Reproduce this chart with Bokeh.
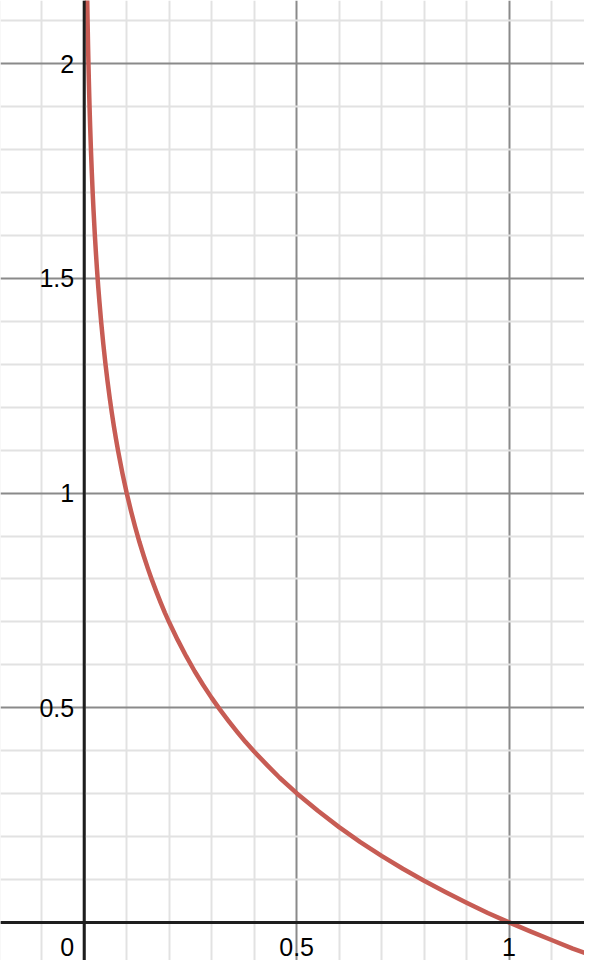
from bokeh.plotting import figure
from bokeh.models import Range1d, FixedTicker, Span
from bokeh.core.properties import value
from bokeh.embed import file_html
from bokeh.resources import INLINE

# curve points
curve_x = [0.0070, 0.0080, 0.0090, 0.010, 0.011, 0.012, 0.013, 0.014, 0.016, 0.018,
           0.020, 0.022, 0.025, 0.028, 0.030, 0.033, 0.036, 0.040, 0.045, 0.050,
           0.055, 0.060, 0.065, 0.070, 0.075, 0.080, 0.090, 0.100, 0.110, 0.120,
           0.130, 0.140, 0.150, 0.160, 0.170, 0.180, 0.190, 0.200, 0.220, 0.240,
           0.260, 0.280, 0.300, 0.320, 0.340, 0.360, 0.380, 0.400, 0.430, 0.460,
           0.500, 0.550, 0.600, 0.650, 0.700, 0.750, 0.800, 0.850, 0.900, 0.950,
           1.000, 1.050, 1.100, 1.150, 1.200]
curve_y = [2.155, 2.097, 2.046, 2.000, 1.959, 1.921, 1.886, 1.854, 1.796, 1.745,
           1.699, 1.658, 1.602, 1.553, 1.523, 1.481, 1.444, 1.398, 1.347, 1.301,
           1.260, 1.222, 1.187, 1.155, 1.125, 1.097, 1.046, 1.000, 0.959, 0.921,
           0.886, 0.854, 0.824, 0.796, 0.770, 0.745, 0.721, 0.699, 0.658, 0.620,
           0.585, 0.553, 0.523, 0.495, 0.469, 0.444, 0.420, 0.398, 0.367, 0.337,
           0.301, 0.260, 0.222, 0.187, 0.155, 0.125, 0.097, 0.071, 0.046, 0.022,
           0.000, -0.021, -0.041, -0.061, -0.079]

# tick labels
x_tick_vals = [0.5, 1]
x_tick_text = ["0.5", "1"]
y_tick_vals = [0.5, 1, 1.5, 2]
y_tick_text = ["0.5", "1", "1.5", "2"]
origin_text = ["0"]

major_x = [-0.5, 0, 0.5, 1, 1.5]
minor_x = [-0.4, -0.3, -0.2, -0.1, 0.1, 0.2, 0.3, 0.4, 0.6, 0.7, 0.8, 0.9, 1.1, 1.2, 1.3]
major_y = [-0.5, 0, 0.5, 1, 1.5, 2, 2.5]
minor_y = [-0.3, -0.2, -0.1, 0.1, 0.2, 0.3, 0.4, 0.6, 0.7, 0.8, 0.9, 1.1, 1.2, 1.3, 1.4,
           1.6, 1.7, 1.8, 1.9, 2.1, 2.2, 2.3]

p = figure(width=584, height=960, output_backend="svg", toolbar_location=None,
           x_range=Range1d(-0.197, 1.1776), y_range=Range1d(-0.0887, 2.1473),
           min_border=0, outline_line_color=None)
p.xaxis.visible = False
p.yaxis.visible = False

for g, maj, mnr in ((p.xgrid, major_x, minor_x), (p.ygrid, major_y, minor_y)):
    g.ticker = FixedTicker(ticks=maj, minor_ticks=mnr)
    g.grid_line_color = "#8a8a8a"
    g.grid_line_width = 2
    g.grid_line_alpha = 1
    g.minor_grid_line_color = "#e2e2e2"
    g.minor_grid_line_width = 2

p.add_layout(Span(location=0, dimension="width", line_color="#1e1e1e", line_width=3))
p.add_layout(Span(location=0, dimension="height", line_color="#1e1e1e", line_width=3))

p.line(curve_x, curve_y, line_color="#c75c54", line_width=4.5, line_join="round", line_cap="round")

font = value("Liberation Sans")
p.text(x=[0] * len(y_tick_vals), y=y_tick_vals, text=y_tick_text, text_font=font,
       text_font_size="25px", text_color="#000000", text_align="right",
       text_baseline="middle", x_offset=-10, y_offset=0)
p.text(x=x_tick_vals, y=[0] * len(x_tick_vals), text=x_tick_text, text_font=font,
       text_font_size="25px", text_color="#000000", text_align="center",
       text_baseline="middle", y_offset=25)
p.text(x=[0], y=[0], text=origin_text, text_font=font,
       text_font_size="25px", text_color="#000000", text_align="right",
       text_baseline="middle", x_offset=-10, y_offset=25)

open("out.html", "w").write(file_html(p, INLINE))
